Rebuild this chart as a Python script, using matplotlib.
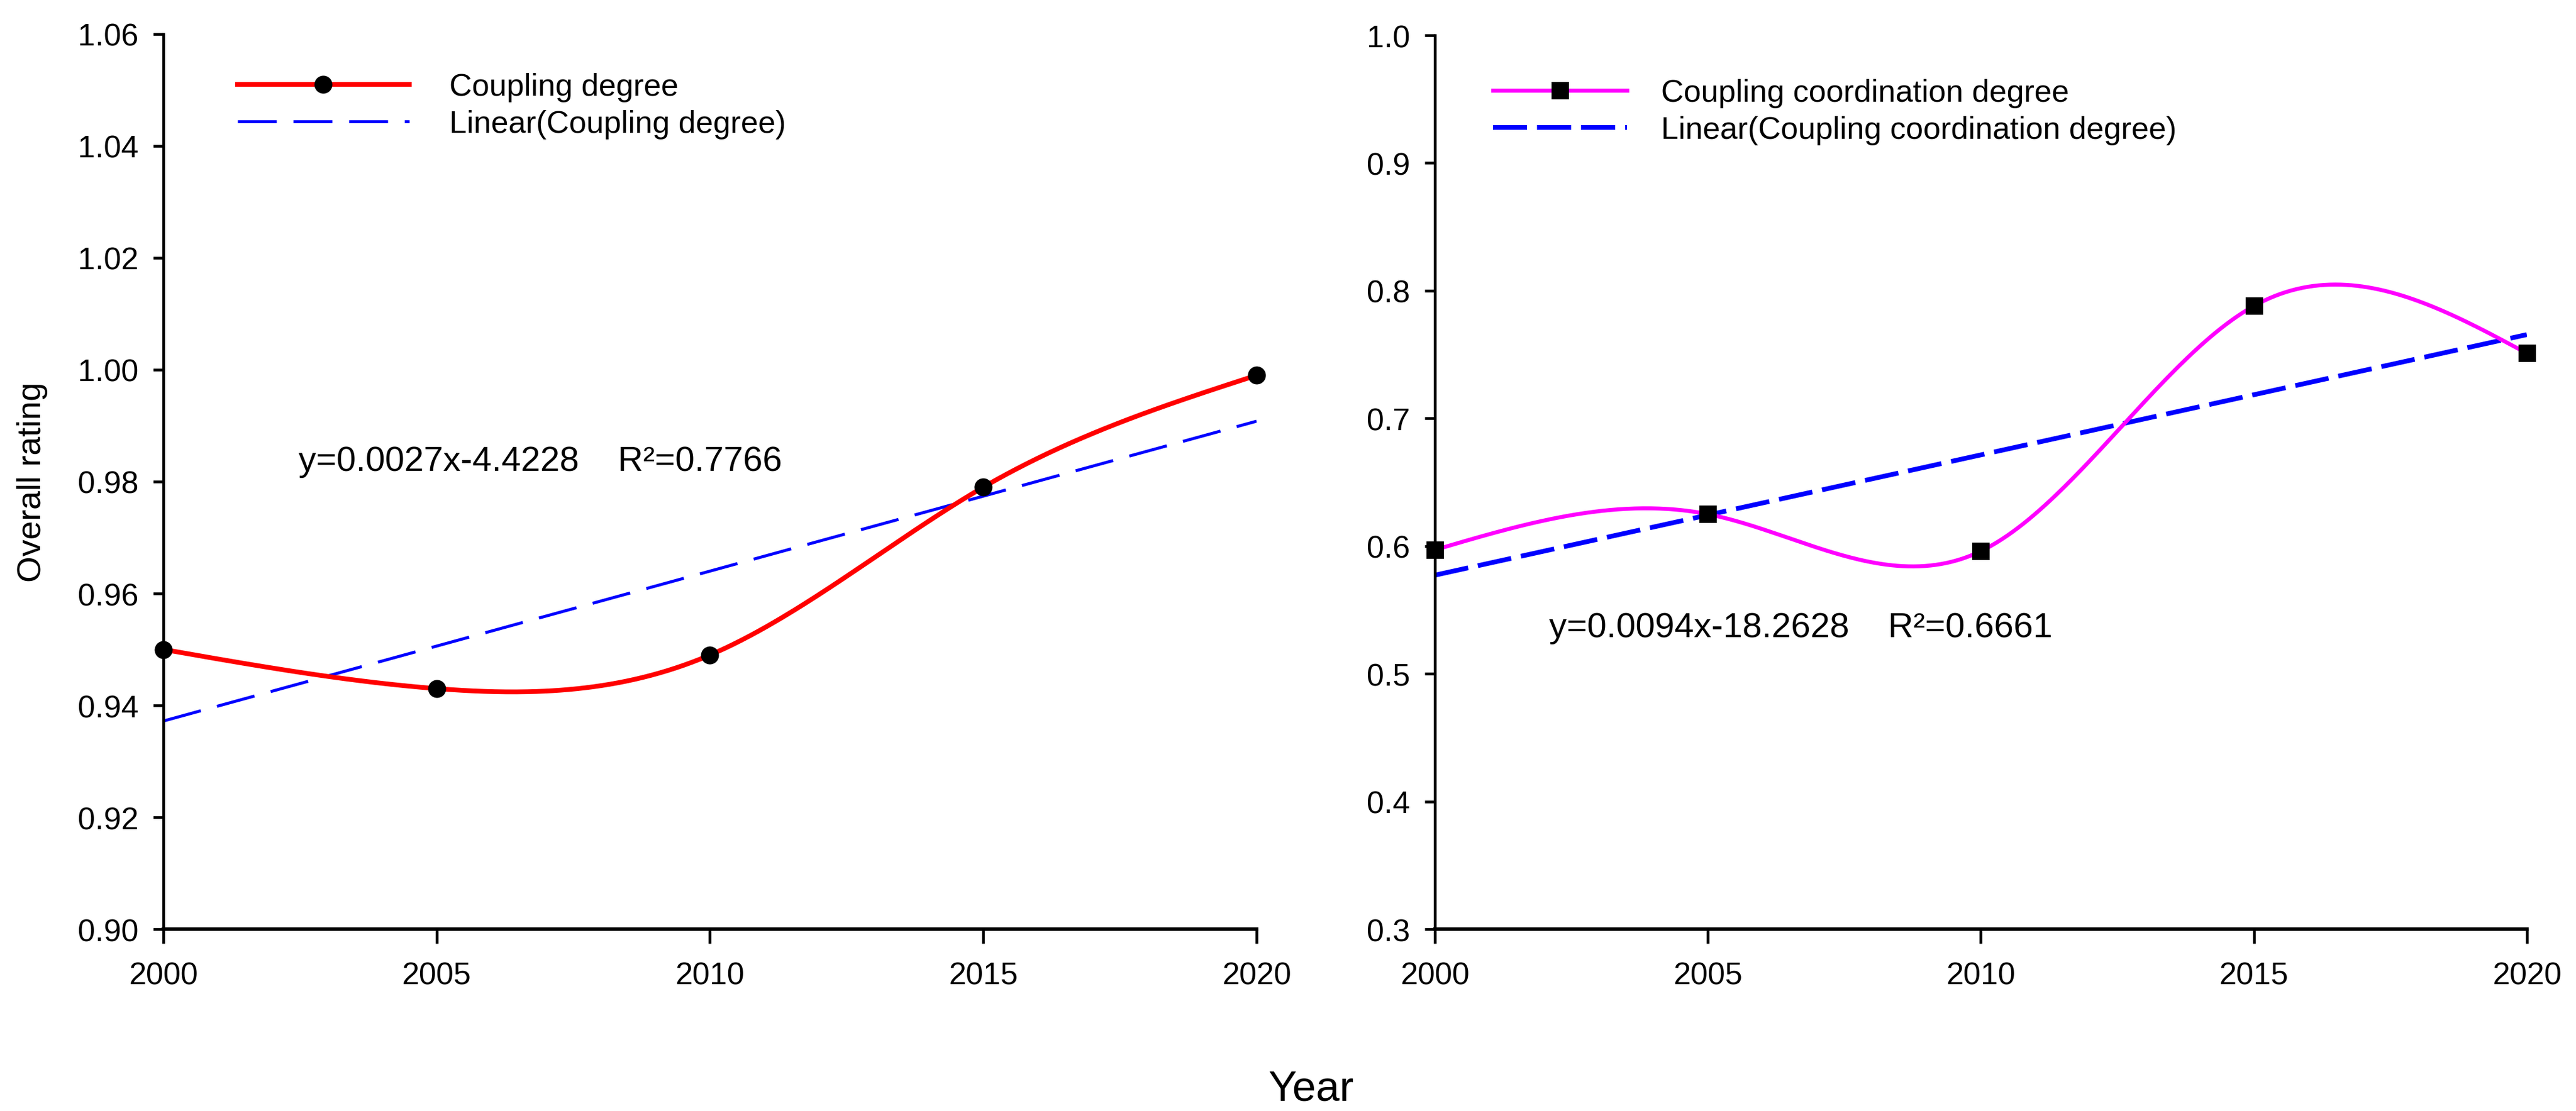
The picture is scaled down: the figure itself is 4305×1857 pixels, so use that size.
import numpy as np
import matplotlib
matplotlib.use("Agg")
import matplotlib.pyplot as plt

plt.rcParams["font.family"] = ["Liberation Sans", "DejaVu Sans"]

# data
years = [2000, 2005, 2010, 2015, 2020]
coupling_degree = [0.950, 0.943, 0.949, 0.979, 0.999]
coord_degree = [0.597, 0.625, 0.596, 0.788, 0.751]

left_yticks = [0.90, 0.92, 0.94, 0.96, 0.98, 1.00, 1.02, 1.04, 1.06]
right_yticks = [0.3, 0.4, 0.5, 0.6, 0.7, 0.8, 0.9, 1.0]

eq_left = "y=0.0027x-4.4228    R\u00b2=0.7766"
eq_right = "y=0.0094x-18.2628    R\u00b2=0.6661"


def natural_spline(x, y, xs):
    x = np.asarray(x, float)
    y = np.asarray(y, float)
    n = len(x)
    h = np.diff(x)
    A = np.zeros((n, n))
    b = np.zeros(n)
    A[0, 0] = 1
    A[-1, -1] = 1
    for i in range(1, n - 1):
        A[i, i - 1] = h[i - 1]
        A[i, i] = 2 * (h[i - 1] + h[i])
        A[i, i + 1] = h[i]
        b[i] = 6 * ((y[i + 1] - y[i]) / h[i] - (y[i] - y[i - 1]) / h[i - 1])
    M = np.linalg.solve(A, b)
    k = np.clip(np.searchsorted(x, xs) - 1, 0, n - 2)
    hk = h[k]
    t0 = x[k + 1] - xs
    t1 = xs - x[k]
    return (M[k] * t0 ** 3 / (6 * hk) + M[k + 1] * t1 ** 3 / (6 * hk)
            + (y[k] / hk - M[k] * hk / 6) * t0
            + (y[k + 1] / hk - M[k + 1] * hk / 6) * t1)


fig = plt.figure(figsize=(14.35, 6.1933), dpi=300)
ax1 = fig.add_axes([0.0634, 0.1636, 0.4244, 0.8052])
ax2 = fig.add_axes([0.557, 0.1636, 0.4239, 0.8041])

xs = np.linspace(2000, 2020, 400)

# left panel
ax1.plot(xs, natural_spline(years, coupling_degree, xs), color="#ff0000",
         lw=1.9, zorder=3)
ax1.plot(years, coupling_degree, "o", color="black", ms=6.2, zorder=4,
         clip_on=False)
fit1 = np.polyfit(years, coupling_degree, 1)
ax1.plot(xs, np.polyval(fit1, xs), color="#0000ff", lw=1.2,
         linestyle=(0, (13, 5.6)), zorder=2)
ax1.plot([], [], color="#ff0000", lw=1.9, marker="o", mfc="black",
         mec="black", ms=6.2, label="Coupling degree")
ax1.plot([], [], color="#0000ff", lw=1.2, linestyle=(0, (13, 5.6)),
         label="Linear(Coupling degree)")
ax1.set_ylim(0.90, 1.06)
ax1.set_yticks(left_yticks)
ax1.set_yticklabels([f"{v:.2f}" for v in left_yticks])
ax1.set_ylabel("Overall rating", fontsize=13.5, labelpad=12)
ax1.text(2002.47, 0.982, eq_left, fontsize=14, ha="left", va="baseline")
ax1.legend(loc="upper left", bbox_to_anchor=(0.068, 0.957), frameon=False,
           fontsize=12.5, handlelength=5.5, handletextpad=1.3,
           labelspacing=0.25, borderpad=0, borderaxespad=0, numpoints=1)

# right panel
ax2.plot(xs, natural_spline(years, coord_degree, xs), color="#ff00ff",
         lw=1.6, zorder=3)
ax2.plot(years, coord_degree, "s", color="black", ms=6.0, zorder=4,
         clip_on=False)
fit2 = np.polyfit(years, coord_degree, 1)
ax2.plot(xs, np.polyval(fit2, xs), color="#0000ff", lw=1.9,
         linestyle=(0, (7.2, 2.1)), zorder=2)
ax2.plot([], [], color="#ff00ff", lw=1.6, marker="s", mfc="black",
         mec="black", ms=6.0, label="Coupling coordination degree")
ax2.plot([], [], color="#0000ff", lw=1.9, linestyle=(0, (7.2, 2.1)),
         label="Linear(Coupling coordination degree)")
ax2.set_ylim(0.3, 1.0)
ax2.set_yticks(right_yticks)
ax2.set_yticklabels([f"{v:.1f}" for v in right_yticks])
ax2.text(2002.09, 0.529, eq_right, fontsize=14, ha="left", va="baseline")
ax2.legend(loc="upper left", bbox_to_anchor=(0.053, 0.952), frameon=False,
           fontsize=12.5, handlelength=4.3, handletextpad=1.1,
           labelspacing=0.25, borderpad=0, borderaxespad=0, numpoints=1)

for ax in (ax1, ax2):
    ax.set_xlim(2000, 2020)
    ax.set_xticks(years)
    ax.spines["top"].set_visible(False)
    ax.spines["right"].set_visible(False)
    ax.spines["left"].set_linewidth(1.1)
    ax.spines["bottom"].set_linewidth(1.4)
    ax.tick_params(axis="y", direction="out", length=4, width=1.1,
                   labelsize=12.5, pad=6)
    ax.tick_params(axis="x", direction="out", length=5.8, width=1.1,
                   labelsize=12.5, pad=7)

fig.text(0.509, 0.0097, "Year", fontsize=17, ha="center", va="baseline")

fig.savefig("out.png", dpi=300)
